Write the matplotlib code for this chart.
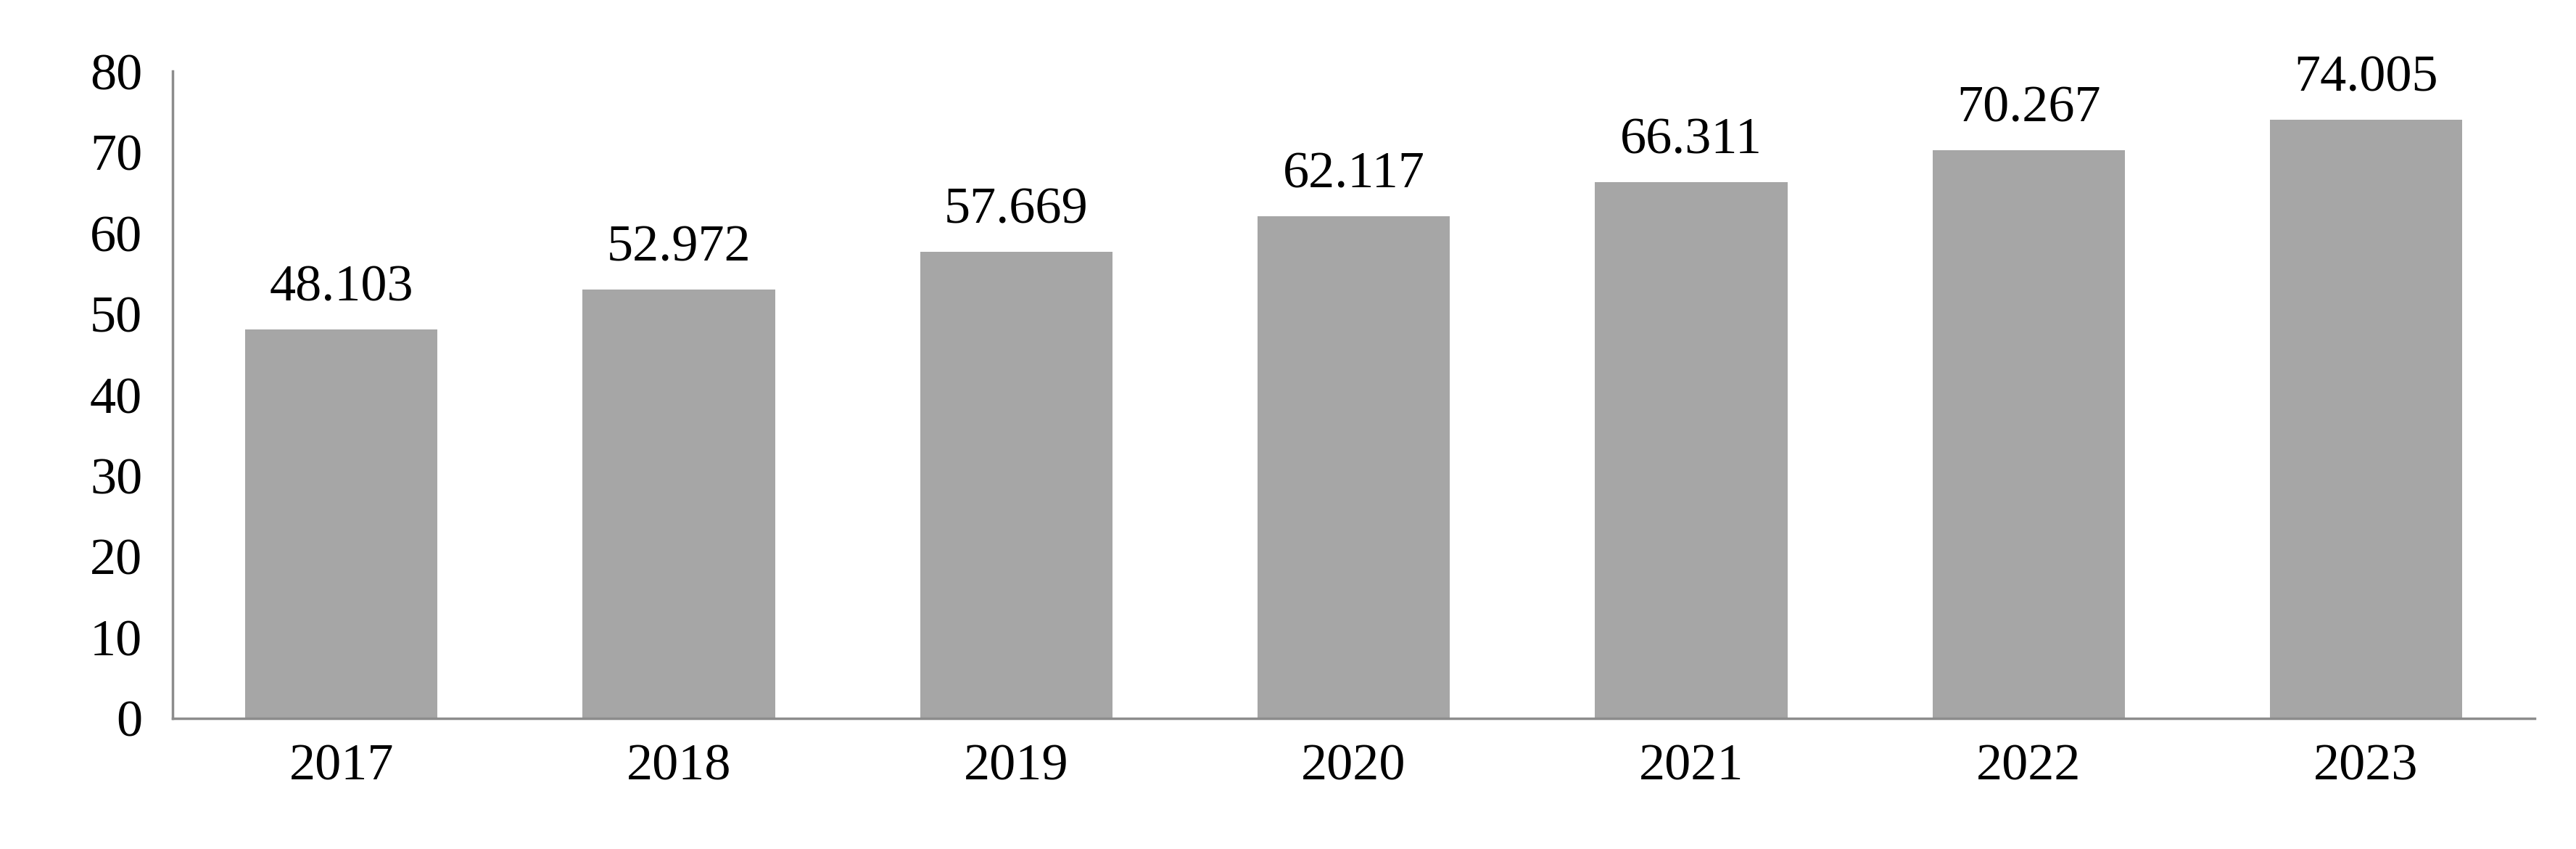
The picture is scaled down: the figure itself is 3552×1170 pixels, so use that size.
import matplotlib.pyplot as plt

years = ['2017', '2018', '2019', '2020', '2021', '2022', '2023']
values = [48.103, 52.972, 57.669, 62.117, 66.311, 70.267, 74.005]
value_labels = ['48.103', '52.972', '57.669', '62.117', '66.311', '70.267', '74.005']

plt.rcParams['font.family'] = ['Liberation Serif', 'DejaVu Serif']

fig = plt.figure(figsize=(35.52, 11.7), dpi=100)
ax = fig.add_axes([0.067, 0.154, 0.917, 0.762])

x = range(len(years))
bars = ax.bar(x, values, width=0.57, color='#a6a6a6')
for b, lab in zip(bars, value_labels):
    ax.text(b.get_x() + b.get_width() / 2, b.get_height() + 2.2, lab,
            ha='center', va='bottom', fontsize=52)

ax.set_xlim(-0.5, 6.5)
ax.set_ylim(0, 80)
ax.set_yticks(range(0, 81, 10))
ax.set_xticks(list(x))
ax.set_xticklabels(years)
ax.tick_params(axis='both', length=0, labelsize=52)
ax.tick_params(axis='x', pad=25)
ax.tick_params(axis='y', pad=30)
for s in ['top', 'right']:
    ax.spines[s].set_visible(False)
for s in ['left', 'bottom']:
    ax.spines[s].set_color('#8c8c8c')
    ax.spines[s].set_linewidth(2.5)

fig.savefig('out.png', dpi=100, facecolor='white')
